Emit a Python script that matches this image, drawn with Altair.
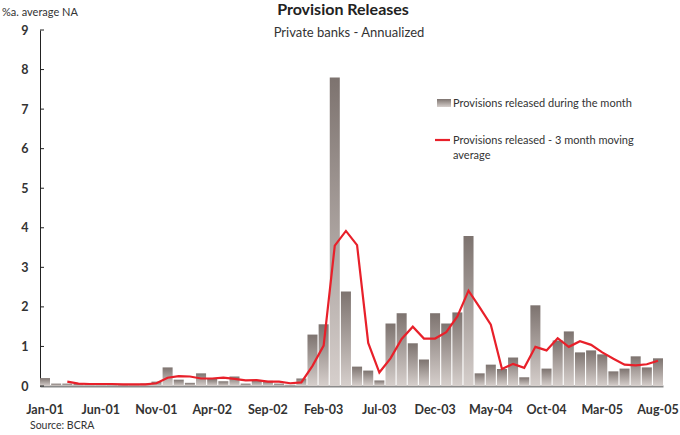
import altair as alt
import pandas as pd

# Monthly provision releases, private banks (annualized, % of average net assets)
months = [
    "Jan-01", "Feb-01", "Mar-01", "Apr-01", "May-01", "Jun-01", "Jul-01", "Aug-01",
    "Sep-01", "Oct-01", "Nov-01", "Dec-01", "Jan-02", "Feb-02", "Mar-02", "Apr-02",
    "May-02", "Jun-02", "Jul-02", "Aug-02", "Sep-02", "Oct-02", "Nov-02", "Dec-02",
    "Jan-03", "Feb-03", "Mar-03", "Apr-03", "May-03", "Jun-03", "Jul-03", "Aug-03",
    "Sep-03", "Oct-03", "Nov-03", "Dec-03", "Jan-04", "Feb-04", "Mar-04", "Apr-04",
    "May-04", "Jun-04", "Jul-04", "Aug-04", "Sep-04", "Oct-04", "Nov-04", "Dec-04",
    "Jan-05", "Feb-05", "Mar-05", "Apr-05", "May-05", "Jun-05", "Jul-05", "Aug-05",
]
released = [
    0.20, 0.06, 0.06, 0.05, 0.05, 0.05, 0.04, 0.03,
    0.04, 0.06, 0.11, 0.47, 0.16, 0.08, 0.32, 0.18,
    0.12, 0.24, 0.06, 0.15, 0.13, 0.06, 0.03, 0.19,
    1.30, 1.56, 7.80, 2.39, 0.49, 0.39, 0.14, 1.58,
    1.84, 1.08, 0.67, 1.84, 1.58, 1.86, 3.79, 0.32,
    0.54, 0.43, 0.72, 0.22, 2.04, 0.44, 1.15, 1.38,
    0.85, 0.90, 0.80, 0.37, 0.44, 0.75, 0.47, 0.70,
]
# 3 month moving average (starts with the third month)
moving_avg = [
    None, None, 0.11, 0.06, 0.05, 0.05, 0.05, 0.04,
    0.04, 0.04, 0.07, 0.21, 0.25, 0.24, 0.19, 0.19,
    0.21, 0.18, 0.14, 0.15, 0.11, 0.11, 0.07, 0.09,
    0.51, 1.02, 3.55, 3.92, 3.56, 1.09, 0.34, 0.70,
    1.19, 1.50, 1.20, 1.20, 1.36, 1.76, 2.41, 1.99,
    1.55, 0.43, 0.56, 0.46, 0.99, 0.90, 1.21, 0.99,
    1.13, 1.04, 0.85, 0.69, 0.54, 0.52, 0.55, 0.64,
]
tick_labels = ["Jan-01", "Jun-01", "Nov-01", "Apr-02", "Sep-02", "Feb-03",
               "Jul-03", "Dec-03", "May-04", "Oct-04", "Mar-05", "Aug-05"]
y_ticks = [0, 1, 2, 3, 4, 5, 6, 7, 8, 9]

FONT = "Lato"
TEXT = "#333333"
RED = "#e8202a"
BAR_FILL = {
    "gradient": "linear", "x1": 0, "y1": 0, "x2": 0, "y2": 1,
    "stops": [{"offset": 0, "color": "#7d736f"}, {"offset": 1, "color": "#d6cfcc"}],
}

df = pd.DataFrame({"month": months, "released": released, "avg": moving_avg})
ticks_df = pd.DataFrame({"v": y_ticks})
one = pd.DataFrame({"k": [0]})

# Shared scales and axes, repeated identically on every layer so they merge cleanly
x_scale = alt.Scale(paddingInner=0.1, paddingOuter=0)
y_scale = alt.Scale(domain=[0, 9], nice=False)
x_axis = alt.Axis(values=tick_labels, labelAngle=0, labelFont=FONT, labelFontSize=12.5,
                  labelFontWeight="bold", labelColor=TEXT, labelPadding=17, ticks=False,
                  labelOverlap=False, domainColor="#8a8a8a", domainWidth=2, grid=False)
y_axis = alt.Axis(values=y_ticks, format="d", labelFont=FONT, labelFontSize=12.5,
                  labelFontWeight="bold", labelColor=TEXT, tickSize=0, labelPadding=12,
                  labelOverlap=False, labelFlush=False,
                  domainColor="#222222", domainWidth=1, grid=False)

bars = alt.Chart(df).mark_bar(color=BAR_FILL).encode(
    x=alt.X("month:N", sort=months, title=None, scale=x_scale, axis=x_axis),
    y=alt.Y("released:Q", scale=y_scale, title=None, axis=y_axis),
)

line = alt.Chart(df).transform_filter("datum.avg != null").mark_line(
    color=RED, strokeWidth=2.2
).encode(
    x=alt.X("month:N", sort=months, title=None, scale=x_scale, axis=x_axis),
    y=alt.Y("avg:Q", scale=y_scale, title=None, axis=y_axis),
)

# Inward tick marks on the value axis
yticks = alt.Chart(ticks_df).mark_rule(color="#222222", strokeWidth=1).encode(
    y=alt.Y("v:Q", scale=y_scale, title=None, axis=y_axis),
    x=alt.value(0), x2=alt.value(4),
)

def label(txt, x, y, size=11, weight="normal", align="left", color=TEXT):
    return alt.Chart(one).mark_text(
        font=FONT, fontSize=size, fontWeight=weight, align=align, baseline="alphabetic",
        color=color,
    ).encode(x=alt.value(x), y=alt.value(y), text=alt.value(txt))

title = label("Provision Releases", 303, -15, size=16, weight="bold", align="center", color="#222222")
subtitle = label("Private banks - Annualized", 309, 7, size=13, align="center")
unit = label("%a.  average NA", -38, -14, size=11)
source = label("Source: BCRA", -10, 399, size=10.5)

legend_bar = alt.Chart(one).mark_rect(color=BAR_FILL).encode(
    x=alt.value(397), x2=alt.value(411), y=alt.value(69), y2=alt.value(77)
)
legend_line = alt.Chart(one).mark_rule(color=RED, strokeWidth=2.2).encode(
    x=alt.value(395), x2=alt.value(410), y=alt.value(110)
)
leg1 = label("Provisions released during the month", 413, 77, size=11)
leg2 = label("Provisions released - 3 month moving", 413, 114, size=11)
leg3 = label("average", 413, 129, size=11)

chart = alt.layer(
    bars, line, yticks, title, subtitle, unit, source,
    legend_bar, legend_line, leg1, leg2, leg3,
).properties(
    width=623, height=356,
    autosize=alt.AutoSizeParams(type="none"),
    padding={"left": 40, "top": 30, "right": 17, "bottom": 49},
    background="white",
).configure_view(stroke=None)

chart.save("out.html", embed_options={"renderer": "svg", "actions": False})
